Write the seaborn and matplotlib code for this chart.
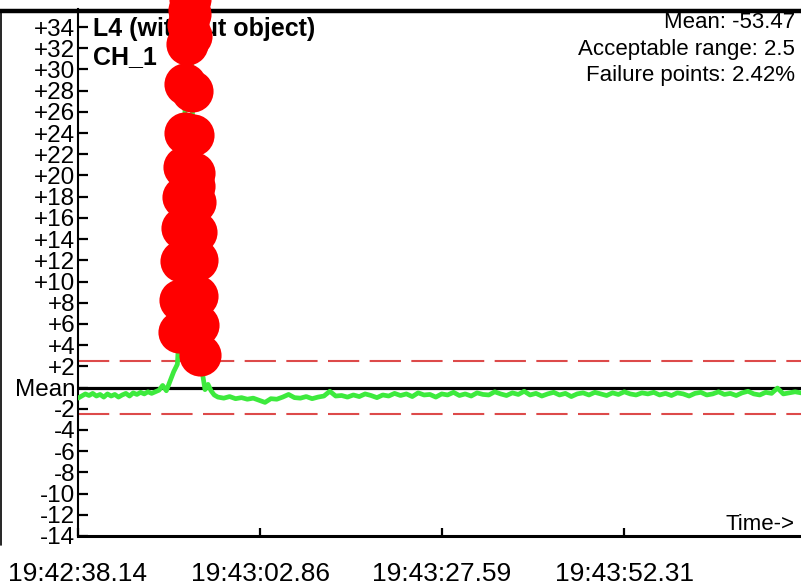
import matplotlib.pyplot as plt
import matplotlib.lines as mlines
import pandas as pd
import seaborn as sns

# signal before the spike (seconds from 19:42:38.14, deviation from mean)
pre_t = [0.0, 0.5, 1.0, 1.5, 2.0, 2.5, 3.0, 3.5, 4.0, 4.5, 5.0, 5.5, 6.0, 6.5,
         7.0, 7.5, 8.0, 8.5, 9.0, 9.5, 10.0, 10.5, 11.0, 11.5, 12.0, 12.5, 13.0, 13.5]
pre_v = [-1.0, -0.8, -0.6, -0.75, -0.55, -0.8, -0.65, -0.9, -0.6, -0.8, -0.65, -0.9,
         -0.7, -0.55, -0.8, -0.5, -0.65, -0.45, -0.6, -0.4, -0.55, -0.4, -0.25, 0.2,
         -0.3, 0.6, 1.5, 2.2]

# the spike
spike_t = [13.72, 13.83, 13.94, 14.06, 14.20, 14.33, 14.47, 14.60, 14.74, 14.88, 15.01, 15.15,
           15.28, 15.39, 15.49, 15.60, 15.70, 15.80, 15.89, 16.00, 16.11, 16.22, 16.34, 16.51,
           16.98, 17.25, 17.66, 18.07, 18.5]
spike_v = [5.2, 8.3, 11.9, 15.0, 18.0, 20.8, 24.0, 28.6, 32.4, 34.2, 35.6, 36.6,
           35.2, 33.2, 28.0, 23.8, 20.2, 19.0, 17.5, 14.7, 12.0, 8.6, 5.9, 3.1,
           1.0, -0.2, 0.3, -0.3, -0.7]

# signal after the spike
post_t = [19.0, 19.8, 20.6, 21.4, 22.2, 23.0, 23.8, 24.6, 25.4, 26.2, 27.0, 27.8, 28.6, 29.4,
          30.2, 31.0, 31.8, 32.6, 33.4, 34.2, 35.0, 35.8, 36.6, 37.4, 38.2, 39.0, 39.8, 40.6,
          41.4, 42.2, 43.0, 43.8, 44.6, 45.4, 46.2, 47.0, 47.8, 48.6, 49.4, 50.2, 51.0, 51.8,
          52.6, 53.4, 54.2, 55.0, 55.8, 56.6, 57.4, 58.2, 59.0, 59.8, 60.6, 61.4, 62.2, 63.0,
          63.8, 64.6, 65.4, 66.2, 67.0, 67.8, 68.6, 69.4, 70.2, 71.0, 71.8, 72.6, 73.4, 74.2,
          75.0, 75.8, 76.6, 77.4, 78.2, 79.0, 79.8, 80.6, 81.4, 82.2, 83.0, 83.8, 84.6, 85.4,
          86.2, 87.0, 87.8, 88.6, 89.4, 90.2, 91.0, 91.8, 92.6, 93.4, 94.2, 95.0, 95.8, 96.6,
          97.4, 98.2]
post_v = [-0.9, -1.0, -0.85, -1.05, -0.95, -1.1, -1.0, -1.2, -1.4, -1.05, -1.1, -0.9, -0.65, -0.95,
          -1.0, -0.85, -1.05, -0.9, -0.8, -0.35, -0.8, -0.75, -0.9, -0.7, -0.85, -0.6, -0.75, -0.95,
          -0.7, -0.8, -0.55, -0.75, -0.6, -0.85, -0.5, -0.7, -0.65, -0.9, -0.6, -0.7, -0.45, -0.75,
          -0.6, -0.8, -0.5, -0.65, -0.7, -0.4, -0.6, -0.75, -0.5, -0.65, -0.35, -0.7, -0.55, -0.8,
          -0.6, -0.45, -0.7, -0.55, -0.85, -0.6, -0.5, -0.7, -0.45, -0.6, -0.75, -0.5, -0.65, -0.4,
          -0.6, -0.7, -0.5, -0.6, -0.45, -0.7, -0.55, -0.75, -0.5, -0.6, -0.8, -0.55, -0.45, -0.7,
          -0.6, -0.4, -0.65, -0.55, -0.75, -0.5, -0.35, -0.6, -0.7, -0.45, -0.55, -0.05, -0.6, -0.5,
          -0.4, -0.5]

x_ticks = [0.0, 24.725, 49.45, 74.175]
x_labels = ['19:42:38.14', '19:43:02.86', '19:43:27.59', '19:43:52.31']
acceptable = 2.5
stats = ['Mean: -53.47', 'Acceptable range: 2.5', 'Failure points: 2.42%']

df = pd.DataFrame({'t': pre_t + spike_t + post_t, 'v': pre_v + spike_v + post_v})
fails = df[df['v'].abs() > acceptable]

sns.set_style('white')
plt.rcParams['font.family'] = ['Liberation Sans', 'DejaVu Sans']
plt.rcParams['text.color'] = 'black'
plt.rcParams['xtick.color'] = 'black'
plt.rcParams['ytick.color'] = 'black'

fig = plt.figure(figsize=(8.01, 5.85), dpi=100)
ax = fig.add_axes([78/801, 1-536/585, 1-78/801, (536-9)/585])

ax.axhline(0, color='black', lw=2.3, zorder=2)
for lvl in (acceptable, -acceptable):
    ax.axhline(lvl, color='#dd4a4a', lw=1.5, dashes=(15, 5), zorder=2)

sns.lineplot(data=df, x='t', y='v', sort=False, color='#3dea3d', lw=3.4, ax=ax, zorder=3)
sns.scatterplot(data=fails, x='t', y='v', color='#ff0000', s=920, linewidth=0, ax=ax, zorder=6)
ax.collections[-1].set_clip_on(False)

ax.set_xlim(0, 98.2)
ax.set_ylim(-14, 35.7)
ax.set_xlabel('')
ax.set_ylabel('')

yt = list(range(-14, 35, 2))
ax.set_yticks(yt)
ax.set_yticklabels(['Mean' if v == 0 else ('+%d' % v if v > 0 else '%d' % v) for v in yt])
ax.set_xticks(x_ticks)
ax.set_xticklabels(x_labels)
ax.tick_params(axis='y', direction='in', length=7, width=1.6, labelsize=17.5, pad=2, left=True)
ax.tick_params(axis='x', direction='in', length=6, width=1.6, labelsize=19, pad=19, bottom=True)

for s in ['top', 'right']:
    ax.spines[s].set_visible(False)
ax.spines['left'].set_linewidth(1.5)
ax.spines['bottom'].set_linewidth(2.2)
ax.spines['left'].set_color('black')
ax.spines['bottom'].set_color('black')

# frame lines of the screen: thick one on top, thin one at the left edge
ax.add_line(mlines.Line2D([0, 1], [1-10.5/585, 1-10.5/585], transform=fig.transFigure,
                          color='black', lw=3.2, clip_on=False, zorder=4))
ax.add_line(mlines.Line2D([1/801, 1/801], [1-10.5/585, 1-545/585], transform=fig.transFigure,
                          color='black', lw=1.2, clip_on=False, zorder=4))

ax.text(93/801, 1-29/585, 'L4 (without object)', transform=fig.transFigure,
        fontsize=18, fontweight='bold', va='center', ha='left', zorder=3)
ax.text(93/801, 1-57/585, 'CH_1', transform=fig.transFigure,
        fontsize=18, fontweight='bold', va='center', ha='left', zorder=3)
for i, s in enumerate(stats):
    ax.text(795/801, 1-(28+26.5*i)/585, s, transform=fig.transFigure,
            fontsize=16, va='baseline', ha='right', zorder=3)
ax.text(795/801, 1-530/585, 'Time->', transform=fig.transFigure,
        fontsize=16, va='baseline', ha='right', zorder=3)

fig.savefig('out.png', dpi=100)
